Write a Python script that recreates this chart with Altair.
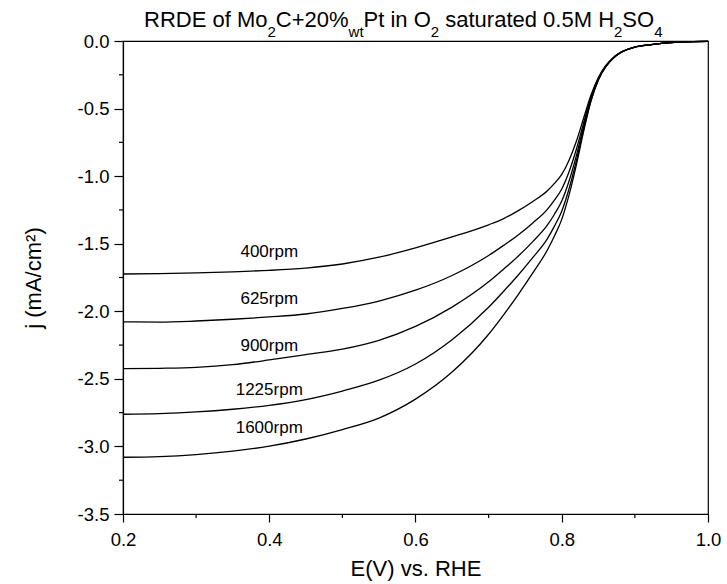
import altair as alt
import pandas as pd

# ---------------- data ----------------
E = [0.20, 0.25, 0.30, 0.35, 0.40, 0.45, 0.50, 0.55, 0.60, 0.65, 0.70, 0.72, 0.74,
     0.76, 0.78, 0.79, 0.80, 0.81, 0.82, 0.83, 0.84, 0.85, 0.86, 0.87, 0.88, 0.89,
     0.90, 0.92, 0.94, 0.96, 0.98, 1.00]

J_400 = [-1.724, -1.722, -1.716, -1.708, -1.697, -1.680, -1.650, -1.600, -1.530, -1.450,
         -1.360, -1.316, -1.257, -1.189, -1.110, -1.054, -0.987, -0.882, -0.742, -0.570,
         -0.400, -0.270, -0.183, -0.125, -0.086, -0.062, -0.045, -0.028, -0.016, -0.009,
         -0.005, -0.003]
J_625 = [-2.078, -2.080, -2.072, -2.059, -2.042, -2.020, -1.979, -1.924, -1.844, -1.735,
         -1.587, -1.514, -1.437, -1.348, -1.248, -1.178, -1.095, -0.967, -0.801, -0.604,
         -0.416, -0.278, -0.187, -0.127, -0.086, -0.062, -0.045, -0.028, -0.016, -0.009,
         -0.005, -0.003]
J_900 = [-2.425, -2.422, -2.415, -2.395, -2.360, -2.320, -2.280, -2.215, -2.112, -1.969,
         -1.782, -1.690, -1.594, -1.486, -1.365, -1.282, -1.184, -1.036, -0.848, -0.630,
         -0.429, -0.283, -0.189, -0.128, -0.087, -0.062, -0.045, -0.028, -0.016, -0.009,
         -0.005, -0.003]
J_1225 = [-2.762, -2.757, -2.745, -2.725, -2.696, -2.653, -2.590, -2.510, -2.390, -2.210,
          -1.970, -1.855, -1.735, -1.605, -1.466, -1.370, -1.259, -1.093, -0.886, -0.651,
          -0.438, -0.287, -0.191, -0.129, -0.087, -0.062, -0.045, -0.028, -0.016, -0.009,
          -0.005, -0.003]
J_1600 = [-3.080, -3.075, -3.060, -3.035, -2.998, -2.945, -2.875, -2.790, -2.650, -2.450,
          -2.170, -2.030, -1.880, -1.720, -1.550, -1.443, -1.320, -1.139, -0.916, -0.667,
          -0.445, -0.290, -0.192, -0.129, -0.088, -0.063, -0.045, -0.028, -0.016, -0.009,
          -0.005, -0.003]

SERIES = ["400rpm", "625rpm", "900rpm", "1225rpm", "1600rpm"]
SERIES_J = [J_400, J_625, J_900, J_1225, J_1600]

LABEL_E = [0.40, 0.40, 0.40, 0.40, 0.40]
LABEL_J = [-1.56, -1.91, -2.26, -2.58, -2.86]

X_MAJOR = [0.2, 0.4, 0.6, 0.8, 1.0]
X_MINOR = [0.3, 0.5, 0.7, 0.9]
Y_MAJOR = [0.0, -0.5, -1.0, -1.5, -2.0, -2.5, -3.0, -3.5]
Y_MINOR = [-0.25, -0.75, -1.25, -1.75, -2.25, -2.75, -3.25]

TITLE_PARTS = [("RRDE of Mo", False), ("2", True), ("C+20%", False), ("wt", True),
               ("Pt in O", False), ("2", True), (" saturated 0.5M H", False), ("2", True),
               ("SO", False), ("4", True)]

# ---------------- build tables ----------------
rows = []
for name, js in zip(SERIES, SERIES_J):
    for e, j in zip(E, js):
        rows.append({"E": e, "j": j, "rpm": name})
df = pd.DataFrame(rows)
df_lab = pd.DataFrame({"E": LABEL_E, "j": LABEL_J, "rpm": SERIES})

FONT = "Liberation Sans, Arial, sans-serif"
W, H = 585, 473
AX_W = 1.2

xs = alt.Scale(domain=[0.2, 1.0], nice=False, zero=False)
ys = alt.Scale(domain=[-3.5, 0.0], nice=False, zero=False)

xaxis = alt.Axis(values=X_MAJOR, format=".1f", title="E(V) vs. RHE", grid=False,
                 tickSize=8, tickColor="black", tickWidth=AX_W, domainColor="black",
                 domainWidth=AX_W,
                 labelFont=FONT, labelFontSize=18.5, labelColor="black", labelPadding=8,
                 labelFlush=False, labelOverlap=False,
                 titleFont=FONT, titleFontSize=22, titleFontWeight="normal", titleColor="black",
                 titleX=W / 2, titleY=61, titleAlign="center", titleBaseline="alphabetic")
yaxis = alt.Axis(values=Y_MAJOR, labelExpr="replace(format(datum.value, '.1f'), '\u2212', '-')",
                 title="j (mA/cm\u00b2)", grid=False,
                 tickSize=9, tickColor="black", tickWidth=AX_W, domainColor="black",
                 domainWidth=AX_W,
                 labelFont=FONT, labelFontSize=18.5, labelColor="black", labelPadding=5,
                 labelFlush=False, labelOverlap=False,
                 titleFont=FONT, titleFontSize=22, titleFontWeight="normal", titleColor="black",
                 titleX=-83, titleY=H / 2, titleAngle=270, titleAlign="center",
                 titleBaseline="alphabetic")

X = alt.X("E:Q", scale=xs, axis=xaxis)
Y = alt.Y("j:Q", scale=ys, axis=yaxis)

lines = alt.Chart(df).mark_line(color="black", strokeWidth=1.3, interpolate="monotone").encode(
    x=X, y=Y, detail="rpm:N",
)

labels = alt.Chart(df_lab).mark_text(font=FONT, fontSize=17, color="black",
                                     align="center", baseline="middle").encode(
    x=X, y=Y, text="rpm:N",
)

xminor = alt.Chart(pd.DataFrame({"E": X_MINOR})).mark_rule(color="black", strokeWidth=AX_W).encode(
    x=X, y=alt.value(H), y2=alt.value(H + 4),
)
yminor = alt.Chart(pd.DataFrame({"j": Y_MINOR})).mark_rule(color="black", strokeWidth=AX_W).encode(
    y=Y, x=alt.value(0), x2=alt.value(-4),
)

# ---------------- title with subscripts ----------------
ARIAL = {'R': 722, 'D': 722, 'E': 667, ' ': 278, 'o': 556, 'f': 278, 'M': 833, 'C': 722,
         '+': 584, '%': 889, 'P': 667, 't': 278, 'i': 222, 'n': 556, 'O': 778, 's': 500,
         'a': 556, 'u': 556, 'r': 333, 'e': 556, 'd': 556, '.': 278, 'H': 722, 'S': 667,
         'w': 722}
for dgt in "0123456789":
    ARIAL[dgt] = 556

MAIN_SIZE, SUB_SIZE = 22, 15
MAIN_BASE, SUB_BASE = -14, -4
x_cursor = 21.0
title_layers = []
for text, is_sub in TITLE_PARTS:
    size = SUB_SIZE if is_sub else MAIN_SIZE
    stripped = text.lstrip(" ")
    x_cursor += (len(text) - len(stripped)) * ARIAL[' '] * size / 1000.0
    title_layers.append(
        alt.Chart(alt.Data(values=[{}])).mark_text(
            text=stripped, font=FONT, fontSize=size, color="black",
            align="left", baseline="alphabetic").encode(
            x=alt.value(x_cursor), y=alt.value(SUB_BASE if is_sub else MAIN_BASE))
    )
    x_cursor += sum(ARIAL[c] for c in stripped) * size / 1000.0

chart = alt.layer(lines, labels, xminor, yminor, *title_layers).properties(
    width=W, height=H,
    padding={"left": 123, "top": 41, "right": 19, "bottom": 70},
    autosize=alt.AutoSizeParams(type="none"),
    background="white",
).configure(font=FONT).configure_view(stroke="black", strokeWidth=AX_W)

chart.save("out.html", embed_options={"renderer": "svg", "actions": False})
